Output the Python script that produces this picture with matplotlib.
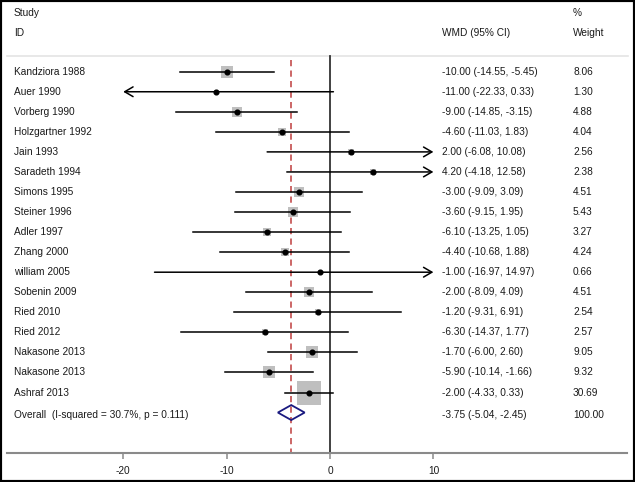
import matplotlib
matplotlib.use("Agg")
import matplotlib.pyplot as plt
from matplotlib.patches import Polygon, Rectangle
import numpy as np

# Data
studies = ["Kandziora 1988", "Auer 1990", "Vorberg 1990", "Holzgartner 1992",
           "Jain 1993", "Saradeth 1994", "Simons 1995", "Steiner 1996",
           "Adler 1997", "Zhang 2000", "william 2005", "Sobenin 2009",
           "Ried 2010", "Ried 2012", "Nakasone 2013", "Nakasone 2013",
           "Ashraf 2013"]
wmd = [-10.00, -11.00, -9.00, -4.60, 2.00, 4.20, -3.00, -3.60, -6.10,
       -4.40, -1.00, -2.00, -1.20, -6.30, -1.70, -5.90, -2.00]
ci_low = [-14.55, -22.33, -14.85, -11.03, -6.08, -4.18, -9.09, -9.15,
          -13.25, -10.68, -16.97, -8.09, -9.31, -14.37, -6.00, -10.14, -4.33]
ci_high = [-5.45, 0.33, -3.15, 1.83, 10.08, 12.58, 3.09, 1.95, 1.05,
           1.88, 14.97, 4.09, 6.91, 1.77, 2.60, -1.66, 0.33]
weight = [8.06, 1.30, 4.88, 4.04, 2.56, 2.38, 4.51, 5.43, 3.27, 4.24,
          0.66, 4.51, 2.54, 2.57, 9.05, 9.32, 30.69]

overall_label = "Overall  (I-squared = 30.7%, p = 0.111)"
overall = -3.75
overall_low = -5.04
overall_high = -2.45
overall_weight = 100.00

xticks = [-20, -10, 0, 10]
clip_low, clip_high = -20, 10


# pixel -> data helpers (layout only)
def px_x(p):
    return (p - 330) / 10.34


def px_y(p):
    return (p - 71.7) / 20.05


W, H = 635, 482
fig = plt.figure(figsize=(W / 100, H / 100), dpi=100)
ax = fig.add_axes([7 / W, (H - 453) / H, 620 / W, 453 / H])
ax.set_xlim(px_x(7), px_x(627))
ax.set_ylim(px_y(453), px_y(0))

txt = dict(fontsize=7.3, color="#1a1a1a", family="Liberation Sans", va="center")
n = len(studies)
rows = np.arange(n)

# header
ax.text(px_x(14), px_y(12.5), "Study", **txt)
ax.text(px_x(14), px_y(32.5), "ID", **txt)
ax.text(px_x(442), px_y(32.5), "WMD (95% CI)", **txt)
ax.text(px_x(573), px_y(12.5), "%", **txt)
ax.text(px_x(573), px_y(32.5), "Weight", **txt)
ax.plot([px_x(7), px_x(628)], [px_y(56), px_y(56)], color="#e4e4e4", lw=1.2,
        clip_on=False)

# zero line and overall line
ax.plot([0, 0], [px_y(56), px_y(453)], color="#333333", lw=1.3)
ax.plot([overall, overall], [px_y(60), px_y(453)], color="#cc6666", lw=1.4,
        dashes=(3.2, 2.2))

# boxes sized by weight
for r, e, w in zip(rows, wmd, weight):
    side = 4.25 * np.sqrt(w) * 0.72
    ax.plot(e, r, marker="s", markersize=side, color="#bfbfbf",
            markeredgewidth=0, zorder=2)

# confidence intervals, with arrows when they leave the scale
for r, e, lo, hi in zip(rows, wmd, ci_low, ci_high):
    a = max(lo, clip_low)
    b = min(hi, clip_high)
    arrow = dict(arrowstyle="->,head_length=0.6,head_width=0.35", lw=1.1,
                 color="black", shrinkA=0, shrinkB=0)
    if lo < clip_low:
        ax.annotate("", xy=(a, r), xytext=(b, r), arrowprops=arrow, zorder=3)
    elif hi > clip_high:
        ax.annotate("", xy=(b, r), xytext=(a, r), arrowprops=arrow, zorder=3)
    else:
        ax.plot([a, b], [r, r], color="black", lw=1.1, zorder=3)
    ax.plot(e, r, marker="o", markersize=3.4, color="black", zorder=4)

# overall diamond
ro = n
h = 7.5 / 20.05
diamond = Polygon([(overall_low, ro), (overall, ro - h), (overall_high, ro),
                   (overall, ro + h)], closed=True, fill=False,
                  edgecolor="#1a1a80", lw=1.3, zorder=4)
ax.add_patch(diamond)

# text columns
for r, s, e, lo, hi, w in zip(rows, studies, wmd, ci_low, ci_high, weight):
    ax.text(px_x(14), r, s, **txt)
    ax.text(px_x(442), r, f"{e:.2f} ({lo:.2f}, {hi:.2f})", **txt)
    ax.text(px_x(573), r, f"{w:.2f}", **txt)
ax.text(px_x(14), ro + 0.1, overall_label, **txt)
ax.text(px_x(442), ro + 0.1, f"{overall:.2f} ({overall_low:.2f}, {overall_high:.2f})", **txt)
ax.text(px_x(573), ro + 0.1, f"{overall_weight:.2f}", **txt)

# x axis
for sp in ["top", "left", "right"]:
    ax.spines[sp].set_visible(False)
ax.spines["bottom"].set_color("#8a8a8a")
ax.spines["bottom"].set_linewidth(1.5)
ax.set_yticks([])
ax.set_xticks(xticks)
ax.set_xticklabels([str(t) for t in xticks])
ax.tick_params(axis="x", length=4.5, width=1.1, color="#8a8a8a", pad=4.5,
               labelsize=7.3, labelcolor="#1a1a1a")
for lab in ax.get_xticklabels():
    lab.set_family("Liberation Sans")

# outer frame
fig.patches.append(Rectangle((0, 0), 1, 1, transform=fig.transFigure,
                             fill=False, edgecolor="black", lw=3))

fig.savefig("out.png", dpi=100)
